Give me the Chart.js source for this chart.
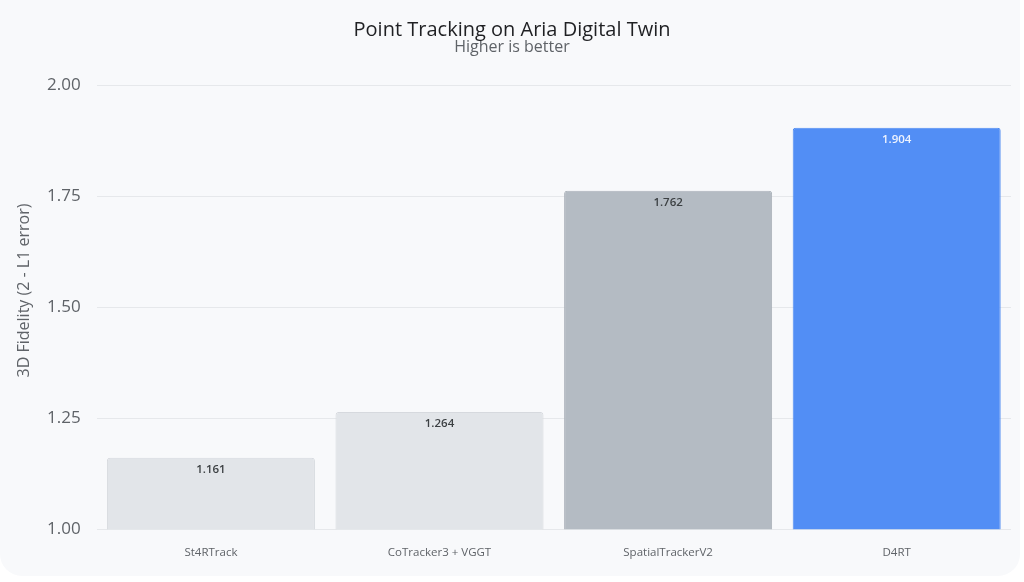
<!DOCTYPE html>
<html lang="en">
<head>
    <meta charset="UTF-8">
    <title>Point Tracking on Aria Digital Twin</title>
    <script src="https://cdn.jsdelivr.net/npm/chart.js"></script>
    <style>
        html, body { margin: 0; padding: 0; background: #ffffff; }
        .card {
            position: absolute; left: 0; top: 0;
            width: 1020px; height: 576px;
            background: #f8f9fb;
            border-radius: 0 0 22px 22px;
        }
        .card canvas { display: block; }
    </style>
</head>
<body>
    <div class="card">
        <canvas id="barChart" width="1020" height="576"></canvas>
    </div>

    <script>
        const methods = ["St4RTrack", "CoTracker3 + VGGT", "SpatialTrackerV2", "D4RT"];
        const fidelity = [1.161, 1.264, 1.762, 1.904];
        const yTicks = [1.00, 1.25, 1.50, 1.75, 2.00];

        const fills = ["#e2e5e9", "#e2e5e9", "#b4bbc3", "#528ef5"];
        const borders = ["#d6d9de", "#d6d9de", "#aab1b9", "#4f8bf2"];
        const labelColors = ["#3c4043", "#3c4043", "#3c4043", "#eef3fe"];

        const FONT = "'Open Sans', sans-serif";

        // draws the value inside each bar, just below its top
        const valueLabels = {
            id: "valueLabels",
            afterDatasetsDraw(chart) {
                const ctx = chart.ctx;
                const meta = chart.getDatasetMeta(0);
                ctx.save();
                ctx.font = "600 11.5px " + FONT;
                ctx.textAlign = "center";
                ctx.textBaseline = "middle";
                meta.data.forEach((bar, i) => {
                    ctx.fillStyle = labelColors[i];
                    ctx.fillText(fidelity[i].toFixed(3), bar.x, bar.y + 12);
                });
                ctx.restore();
            }
        };

        new Chart(document.getElementById("barChart").getContext("2d"), {
            type: "bar",
            data: {
                labels: methods,
                datasets: [{
                    data: fidelity,
                    backgroundColor: fills,
                    borderColor: borders,
                    borderWidth: 1,
                    borderRadius: 3,
                    borderSkipped: "bottom",
                    barPercentage: 0.91,
                    categoryPercentage: 1.0
                }]
            },
            options: {
                responsive: false,
                animation: false,
                layout: { padding: { left: 13, right: 9, top: 8, bottom: 7 } },
                plugins: {
                    legend: { display: false },
                    tooltip: { enabled: false },
                    title: {
                        display: true,
                        text: "Point Tracking on Aria Digital Twin",
                        color: "#1f2023",
                        font: { family: FONT, size: 20, weight: "500", lineHeight: 1 },
                        padding: { top: 12, bottom: 0 }
                    },
                    subtitle: {
                        display: true,
                        text: "Higher is better",
                        color: "#5f6368",
                        font: { family: FONT, size: 16, weight: "400", lineHeight: 1 },
                        padding: { top: -1, bottom: 30 }
                    }
                },
                scales: {
                    x: {
                        grid: { display: false },
                        border: { display: false },
                        ticks: {
                            color: "#5f6368",
                            font: { family: FONT, size: 11.5 },
                            padding: 9
                        }
                    },
                    y: {
                        min: 1,
                        max: 2,
                        afterBuildTicks(axis) {
                            axis.ticks = yTicks.map(v => ({ value: v }));
                        },
                        grid: { color: "#e6e8eb", drawTicks: false },
                        border: { display: false },
                        ticks: {
                            color: "#5f6368",
                            font: { family: FONT, size: 17 },
                            padding: 16,
                            callback: v => Number(v).toFixed(2)
                        },
                        title: {
                            display: true,
                            // leading spaces nudge the rotated title up toward the page centre
                            text: "        3D Fidelity (2 - L1 error)",
                            color: "#5f6368",
                            font: { family: FONT, size: 16, lineHeight: 1 },
                            padding: { top: 3, bottom: -1 }
                        }
                    }
                }
            },
            plugins: [valueLabels]
        });
    </script>
</body>
</html>
